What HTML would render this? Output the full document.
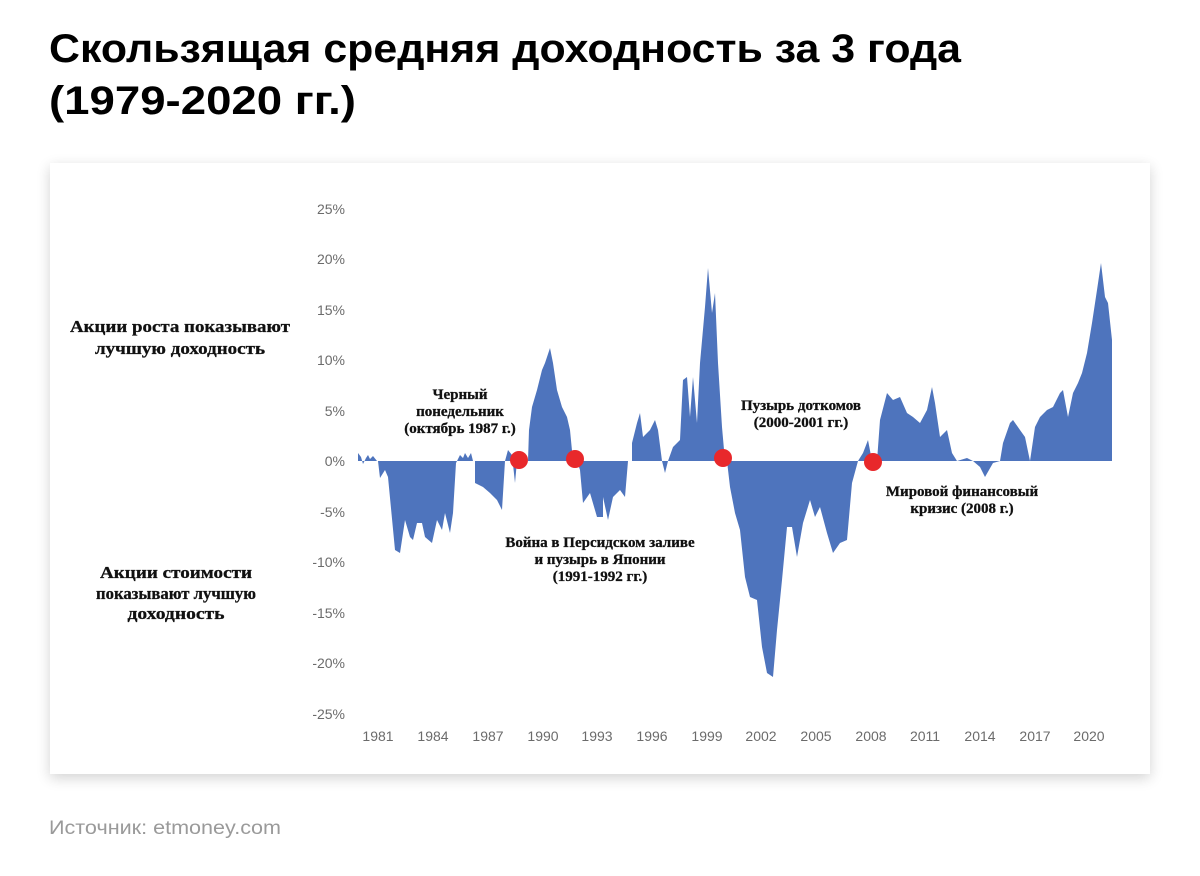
<!DOCTYPE html>
<html><head><meta charset="utf-8"><style>
html,body{margin:0;padding:0;background:#fff;width:1200px;height:876px;overflow:hidden}
</style></head><body>
<svg width="1200" height="876" viewBox="0 0 1200 876" xmlns="http://www.w3.org/2000/svg">
<defs>
<filter id="sh" x="-5%" y="-5%" width="110%" height="115%"><feGaussianBlur in="SourceAlpha" stdDeviation="7"/><feOffset dy="4"/><feComponentTransfer><feFuncA type="linear" slope="0.18"/></feComponentTransfer><feMerge><feMergeNode/><feMergeNode in="SourceGraphic"/></feMerge></filter>
</defs>
<g font-family="'Liberation Sans','Noto Sans CJK SC',sans-serif" font-weight="bold" font-size="40" fill="#000">
<text x="49" y="62" textLength="912" lengthAdjust="spacingAndGlyphs">Скользящая средняя доходность за 3 года</text>
<text x="49" y="114" textLength="307" lengthAdjust="spacingAndGlyphs">(1979-2020 гг.)</text>
</g>
<rect x="50" y="163" width="1100" height="611" fill="#fff" filter="url(#sh)"/>
<g font-family="'Liberation Sans',sans-serif" font-size="14" fill="#6b6b6b" text-anchor="end">
<text x="345" y="214">25%</text><text x="345" y="264">20%</text><text x="345" y="315">15%</text><text x="345" y="365">10%</text><text x="345" y="416">5%</text><text x="345" y="466">0%</text><text x="345" y="517">-5%</text><text x="345" y="567">-10%</text><text x="345" y="618">-15%</text><text x="345" y="668">-20%</text><text x="345" y="719">-25%</text>
</g>
<g font-family="'Liberation Sans',sans-serif" font-size="14" fill="#6b6b6b" text-anchor="middle">
<text x="378" y="741">1981</text><text x="433" y="741">1984</text><text x="488" y="741">1987</text><text x="543" y="741">1990</text><text x="597" y="741">1993</text><text x="652" y="741">1996</text><text x="707" y="741">1999</text><text x="761" y="741">2002</text><text x="816" y="741">2005</text><text x="871" y="741">2008</text><text x="925" y="741">2011</text><text x="980" y="741">2014</text><text x="1035" y="741">2017</text><text x="1089" y="741">2020</text>
</g>
<polygon fill="#4e74bd" points="358,461 358,453 361,457 363,464 366,458 368,455 370,459 373,456 377,461 378,461 380,478 385,470 388,477 395,550 400,553 405,520 410,537 413,540 417,523 422,523 425,537 432,543 437,520 442,530 445,513 450,533 453,513 456,463 457,461 460,455 463,458 465,453 468,458 471,453 473,461 475,461 475,483 483,487 490,493 497,500 502,510 505,461 508,450 512,455 515,483 517,461 528,461 529,430 532,407 537,390 542,370 545,363 550,348 553,363 557,390 562,407 567,417 570,430 573,461 577,461 580,470 583,503 590,493 597,517 603,517 603,497 608,520 613,497 620,490 625,497 628,461 632,461 632,443 637,423 640,413 643,437 650,430 655,420 658,430 662,461 665,473 668,461 673,447 680,440 683,380 687,377 690,417 693,377 697,423 700,363 705,307 708,268 712,313 715,293 718,363 722,427 725,461 727,461 730,487 735,513 740,530 745,577 750,597 757,600 762,647 767,673 773,677 777,630 782,580 787,527 792,527 797,557 803,523 810,500 815,517 820,507 827,533 833,553 840,543 847,540 852,483 858,461 863,453 868,440 872,461 877,461 880,420 887,393 893,400 900,397 907,413 913,417 920,423 927,410 932,387 935,403 940,437 947,430 952,453 957,461 967,458 973,461 980,467 985,477 993,463 1000,461 1003,443 1010,423 1013,420 1020,430 1025,437 1030,461 1035,427 1040,417 1047,410 1053,407 1060,393 1063,390 1068,417 1073,393 1078,383 1082,373 1087,353 1092,323 1097,290 1101,263 1105,297 1108,303 1112,340 1112,461"/>
<g fill="#e8282b">
<circle cx="519" cy="460" r="9"/><circle cx="575" cy="459" r="9"/><circle cx="723" cy="458" r="9"/><circle cx="873" cy="462" r="9"/>
</g>
<g font-family="'Liberation Serif',serif" font-weight="bold" font-size="17" fill="#111" text-anchor="middle" stroke="#111" stroke-width="0.3">
<text x="180" y="332" textLength="220" lengthAdjust="spacingAndGlyphs">Акции роста показывают</text>
<text x="180" y="354" textLength="170" lengthAdjust="spacingAndGlyphs">лучшую доходность</text>
<text x="176" y="578" textLength="152" lengthAdjust="spacingAndGlyphs">Акции стоимости</text>
<text x="176" y="599" textLength="160" lengthAdjust="spacingAndGlyphs">показывают лучшую</text>
<text x="176" y="619" textLength="97" lengthAdjust="spacingAndGlyphs">доходность</text>
<text x="460" y="399" font-size="15">Черный</text>
<text x="460" y="416" font-size="15">понедельник</text>
<text x="460" y="433" font-size="15">(октябрь 1987 г.)</text>
<text x="600" y="547" font-size="15">Война в Персидском заливе</text>
<text x="600" y="564" font-size="15">и пузырь в Японии</text>
<text x="600" y="581" font-size="15">(1991-1992 гг.)</text>
<text x="801" y="410" font-size="15">Пузырь доткомов</text>
<text x="801" y="427" font-size="15">(2000-2001 гг.)</text>
<text x="962" y="496" font-size="15">Мировой финансовый</text>
<text x="962" y="513" font-size="15">кризис (2008 г.)</text>
</g>
<text x="49" y="834" font-family="'Liberation Sans',sans-serif" font-size="19" fill="#9a9a9a" textLength="232" lengthAdjust="spacingAndGlyphs">Источник: etmoney.com</text>
</svg>
</body></html>
